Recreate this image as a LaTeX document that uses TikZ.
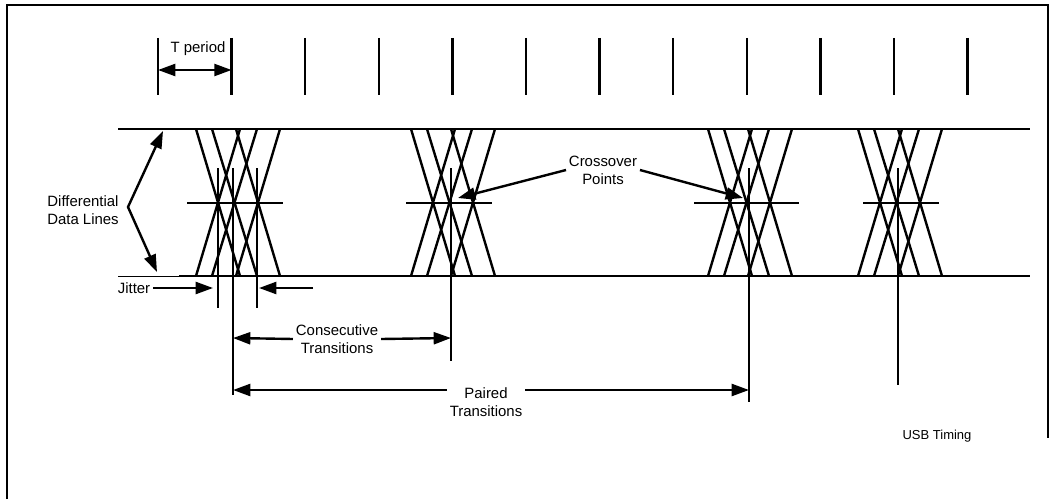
\documentclass[tikz,border=0pt]{standalone}
\usepackage{fontspec}
\setmainfont{Liberation Sans}
\usetikzlibrary{arrows.meta}

\begin{document}
\begin{tikzpicture}[
    x=0.75pt, y=-0.75pt,
    signal/.style={line width=1.8pt},
    marker/.style={line width=1.8pt},
    note/.style={align=center, font=\fontsize{11.2}{13.5}\selectfont, inner sep=2pt},
    arrow/.style={-{Triangle[length=13pt, width=9pt]}, line width=1.8pt},
    dblarrow/.style={{Triangle[length=13pt, width=9pt]}-{Triangle[length=13pt, width=9pt]}, line width=1.8pt}
]
\useasboundingbox (0,0) rectangle (1055,499);
\draw[line width=1.8pt] (7,499) -- (7,5) -- (1048,5) -- (1048,438);

% clock ticks
\foreach \i in {0,...,11}
    \draw[marker] ({158+73.6*\i},38) -- ({158+73.6*\i},95);
\coordinate (tp0) at (158,70);
\coordinate (tp1) at (231.6,70);

% differential data lines
\draw[signal] (118,129) -- (1030,129);
\draw[line width=0.6pt] (118,276) -- (179,276);
\draw[signal] (179,276) -- (1030,276);

% transition bundles
\foreach \c/\ml/\mr in {236/49/47, 451/45/41, 748/54/51, 898/35/41} {
    \foreach \a/\b in {-40/4, -24/21, 0/44} {
        \draw[signal] ({\c+(\a)},129) -- ({\c+(\b)},276);
        \draw[signal] ({\c+(\a)},276) -- ({\c+(\b)},129);
    }
    \draw[marker] ({\c-\ml},203) -- ({\c+\mr},203);
}

% crossover markers
\draw[marker] (218,168) -- (218,308);
\draw[marker] (257,168) -- (257,308);
\draw[marker] (233,168) -- (233,395);
\draw[marker] (451,168) -- (451,361);
\draw[marker] (749,168) -- (749,402);
\draw[marker] (898,168) -- (898,385);

\coordinate (dtop) at (163,131);
\coordinate (dvertex) at (128,207);
\coordinate (dbot) at (157,272);
\coordinate (jitL) at (213,288);
\coordinate (jitR) at (313,288);
\coordinate (jitRtip) at (259,288);
\coordinate (xp2) at (458,198);
\coordinate (xp3) at (743,198);
\coordinate (consL) at (233,338);
\coordinate (consR) at (451,338);
\coordinate (pairL) at (233,390);
\coordinate (pairR) at (749,390);

\node[note] (tperiod) at (198,49) {T period};
\node[note] (difflines) at (83,210) {Differential\\Data Lines};
\node[note] (jitter) at (134,288) {Jitter};
\node[note] (crossover) at (603,170) {Crossover\\Points};
\node[note] (consec) at (337,339) {Consecutive\\Transitions};
\node[note] (paired) at (486,402) {Paired\\Transitions};
\node[font=\fontsize{9.75}{12}\selectfont] (usbtiming) at (937,436) {USB Timing};

\draw[dblarrow] (tp0) -- (tp1);
\draw[dblarrow] (dtop) -- (dvertex) -- (dbot);
\draw[arrow] (jitter.east) -- (jitL);
\draw[arrow] (jitR) -- (jitRtip);
\draw[arrow] (crossover.west) -- (xp2);
\draw[arrow] (crossover.east) -- (xp3);
\draw[arrow] (consec.west) -- (consL);
\draw[arrow] (consec.east) -- (consR);
\draw[arrow] (paired.west |- pairL) -- (pairL);
\draw[arrow] (paired.east |- pairR) -- (pairR);
\end{tikzpicture}
\end{document}
